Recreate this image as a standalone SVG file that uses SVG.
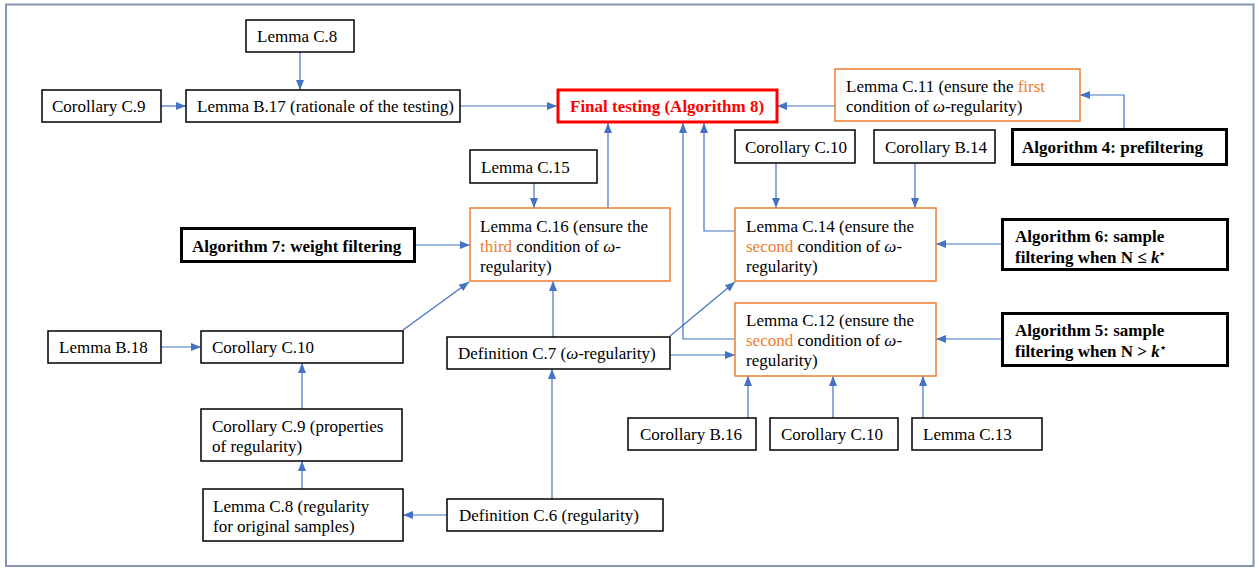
<svg xmlns="http://www.w3.org/2000/svg" width="1259" height="569" viewBox="0 0 1259 569" font-family="'Liberation Serif', 'DejaVu Serif', serif">
<style>
text{font-family:'Liberation Serif','DejaVu Serif',serif;font-size:17px;fill:#000}
.b{font-weight:bold}
.o{fill:#ED7D31}
.n rect{fill:#fff;stroke:#000;stroke-width:1.5}
.or rect{fill:#fff;stroke:#ED7D31;stroke-width:1.5}
.al rect{fill:#fff;stroke:#000;stroke-width:3}
.c path,.c line{fill:none;stroke:#4472C4;stroke-width:1.2}
</style>
<defs>
<marker id="a" markerUnits="userSpaceOnUse" markerWidth="10" markerHeight="10" viewBox="0 0 10 10" refX="10" refY="5" orient="auto">
<path d="M0,1 L10,5 L0,9 Z" fill="#4472C4"/>
</marker>
</defs>
<rect x="6" y="4.5" width="1247.5" height="561.5" fill="#fff" stroke="#8497B0" stroke-width="2"/>
<g class="c">
<line x1="300" y1="52" x2="300" y2="90" marker-end="url(#a)"/>
<line x1="161" y1="106" x2="186" y2="106" marker-end="url(#a)"/>
<line x1="460" y1="106" x2="557" y2="106" marker-end="url(#a)"/>
<line x1="835" y1="106" x2="777" y2="106" marker-end="url(#a)"/>
<path d="M1124,129 V95 H1080" marker-end="url(#a)"/>
<line x1="608" y1="208" x2="608" y2="123" marker-end="url(#a)"/>
<line x1="534" y1="183" x2="534" y2="208" marker-end="url(#a)"/>
<line x1="414" y1="245" x2="470" y2="245" marker-end="url(#a)"/>
<line x1="403" y1="330" x2="469" y2="282" marker-end="url(#a)"/>
<line x1="553" y1="337" x2="553" y2="281" marker-end="url(#a)"/>
<line x1="552" y1="499" x2="552" y2="369" marker-end="url(#a)"/>
<line x1="670" y1="355" x2="735" y2="355" marker-end="url(#a)"/>
<line x1="670" y1="336" x2="735" y2="282" marker-end="url(#a)"/>
<path d="M735,339 H683 V123" marker-end="url(#a)"/>
<path d="M735,231 H704 V123" marker-end="url(#a)"/>
<line x1="776" y1="163" x2="776" y2="208" marker-end="url(#a)"/>
<line x1="915" y1="163" x2="915" y2="208" marker-end="url(#a)"/>
<line x1="1002" y1="244" x2="936" y2="244" marker-end="url(#a)"/>
<line x1="1002" y1="339" x2="936" y2="339" marker-end="url(#a)"/>
<line x1="748" y1="418" x2="748" y2="376" marker-end="url(#a)"/>
<line x1="833" y1="418" x2="833" y2="376" marker-end="url(#a)"/>
<line x1="923" y1="418" x2="923" y2="376" marker-end="url(#a)"/>
<line x1="161" y1="347" x2="201" y2="347" marker-end="url(#a)"/>
<line x1="302" y1="409" x2="302" y2="363" marker-end="url(#a)"/>
<line x1="302" y1="489" x2="302" y2="461" marker-end="url(#a)"/>
<line x1="447" y1="515" x2="403" y2="515" marker-end="url(#a)"/>
</g>
<g id="lemmaC8top" class="n"><rect x="246" y="20" width="108" height="32"/><text x="257" y="42">Lemma C.8</text></g>
<g id="corC9top" class="n"><rect x="42" y="90" width="119" height="32"/><text x="52" y="112">Corollary C.9</text></g>
<g id="lemmaB17" class="n"><rect x="186" y="90" width="274" height="32"/><text x="197" y="112">Lemma B.17 (rationale of the testing)</text></g>
<g id="final"><rect x="558" y="90" width="219" height="32" fill="#fff" stroke="#FF0000" stroke-width="3"/><text x="570" y="112" class="b" style="fill:#FF0000">Final testing (Algorithm 8)</text></g>
<g id="lemmaC11" class="or"><rect x="835" y="69" width="245" height="52"/><text x="846" y="92">Lemma C.11 (ensure the <tspan class="o">first</tspan></text><text x="846" y="112">condition of <tspan font-style="italic">ω</tspan>-regularity)</text></g>
<g id="alg4" class="al"><rect x="1012.5" y="129.5" width="214" height="35"/><text x="1022" y="153" class="b">Algorithm 4: prefiltering</text></g>
<g id="corC10tr" class="n"><rect x="735" y="130" width="120" height="33"/><text x="745" y="153">Corollary C.10</text></g>
<g id="corB14" class="n"><rect x="874" y="130" width="121" height="33"/><text x="885" y="153">Corollary B.14</text></g>
<g id="lemmaC15" class="n"><rect x="470" y="150" width="127" height="33"/><text x="481" y="173">Lemma C.15</text></g>
<g id="lemmaC16" class="or"><rect x="470" y="208" width="200" height="73"/><text x="480" y="232">Lemma C.16 (ensure the</text><text x="480" y="252"><tspan class="o">third</tspan> condition of <tspan font-style="italic">ω</tspan>-</text><text x="480" y="272">regularity)</text></g>
<g id="alg7" class="al"><rect x="181.5" y="228.5" width="233" height="33"/><text x="192" y="252" class="b">Algorithm 7: weight filtering</text></g>
<g id="lemmaC14" class="or"><rect x="735" y="208" width="201" height="73"/><text x="746" y="232">Lemma C.14 (ensure the</text><text x="746" y="252"><tspan class="o">second</tspan> condition of <tspan font-style="italic">ω</tspan>-</text><text x="746" y="272">regularity)</text></g>
<g id="alg6" class="al"><rect x="1002.5" y="219.5" width="225" height="50"/><text x="1015" y="242" class="b">Algorithm 6: sample</text><text x="1015" y="263" class="b">filtering when N ≤ <tspan font-style="italic">k</tspan><tspan font-size="10" dy="-6">⋆</tspan></text></g>
<g id="lemmaB18" class="n"><rect x="48" y="331" width="113" height="32"/><text x="59" y="353">Lemma B.18</text></g>
<g id="corC10l" class="n"><rect x="201" y="331" width="202" height="32"/><text x="212" y="353">Corollary C.10</text></g>
<g id="defC7" class="n"><rect x="447" y="337" width="223" height="32"/><text x="458" y="359">Definition C.7 (<tspan font-style="italic">ω</tspan>-regularity)</text></g>
<g id="lemmaC12" class="or"><rect x="735" y="303" width="201" height="73"/><text x="746" y="326">Lemma C.12 (ensure the</text><text x="746" y="346"><tspan class="o">second</tspan> condition of <tspan font-style="italic">ω</tspan>-</text><text x="746" y="366">regularity)</text></g>
<g id="alg5" class="al"><rect x="1002.5" y="313.5" width="225" height="52"/><text x="1015" y="336" class="b">Algorithm 5: sample</text><text x="1015" y="357" class="b">filtering when N &gt; <tspan font-style="italic">k</tspan><tspan font-size="10" dy="-6">⋆</tspan></text></g>
<g id="corC9p" class="n"><rect x="201" y="409" width="201" height="52"/><text x="212" y="432">Corollary C.9 (properties</text><text x="212" y="452">of regularity)</text></g>
<g id="lemmaC8r" class="n"><rect x="203" y="489" width="200" height="52"/><text x="213" y="512">Lemma C.8 (regularity</text><text x="213" y="532">for original samples)</text></g>
<g id="defC6" class="n"><rect x="447" y="499" width="216" height="32"/><text x="459" y="521">Definition C.6 (regularity)</text></g>
<g id="corB16" class="n"><rect x="628" y="418" width="128" height="32"/><text x="640" y="440">Corollary B.16</text></g>
<g id="corC10b" class="n"><rect x="770" y="418" width="128" height="32"/><text x="781" y="440">Corollary C.10</text></g>
<g id="lemmaC13" class="n"><rect x="912" y="418" width="130" height="32"/><text x="923" y="440">Lemma C.13</text></g>
</svg>
